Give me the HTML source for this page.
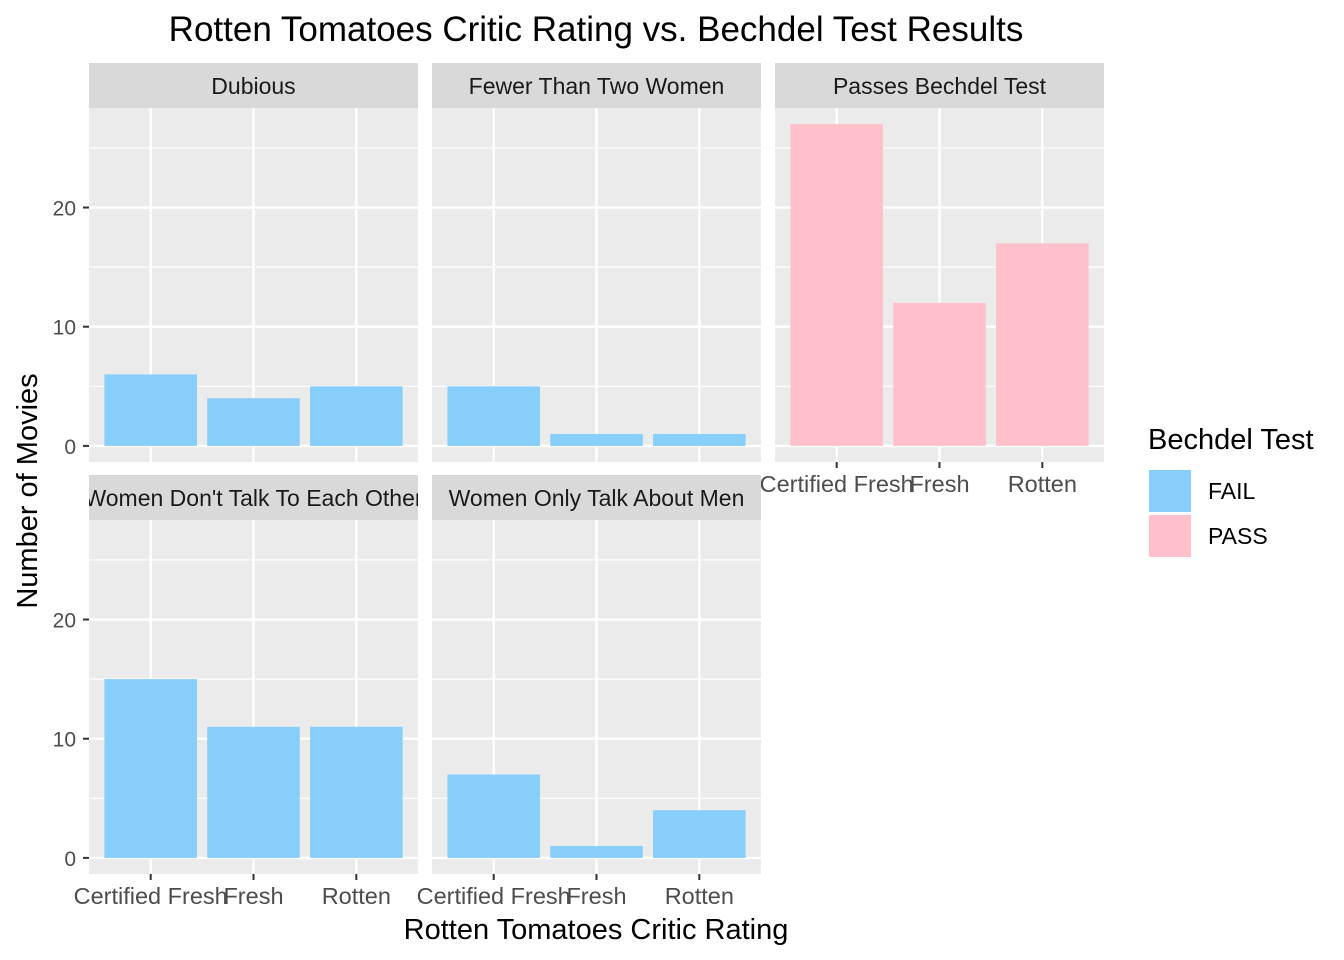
<!DOCTYPE html>
<html><head><meta charset="utf-8"><style>body{margin:0;background:#fff}svg{display:block;font-family:"Liberation Sans",sans-serif}</style></head>
<body>
<svg id="c" width="1344" height="960"></svg>
<script>
const categories=["Certified Fresh","Fresh","Rotten"];
const panels=["Dubious","Fewer Than Two Women","Passes Bechdel Test","Women Don't Talk To Each Other","Women Only Talk About Men"];
const dubious=[6,4,5];
const fewer=[5,1,1];
const passes=[27,12,17];
const dontTalk=[15,11,11];
const onlyMen=[7,1,4];
const yTicks=[0,10,20];
const series=[dubious,fewer,passes,dontTalk,onlyMen];
const ns="http://www.w3.org/2000/svg",svg=document.getElementById('c');
function el(t,a,p){const e=document.createElementNS(ns,t);for(const k in a)e.setAttribute(k,a[k]);(p||svg).appendChild(e);return e;}
const pos=[[89,108],[432,108],[775,108],[89,520],[432,520]];
const PW=329,PH=354,ymin=-1.35,ymax=28.35;
const t=el('text',{x:596,y:41,'text-anchor':'middle','font-size':35,fill:'#000'});t.textContent="Rotten Tomatoes Critic Rating vs. Bechdel Test Results";

panels.forEach((name,i)=>{
  const [px,py]=pos[i];
  const g=el('g',{});
  
  
  const ys=v=>py+PH-(v-ymin)/(ymax-ymin)*PH;
  const xs=k=>px+(k+1-0.4)/3.2*PW;
  const bw=0.9/3.2*PW;
  el('rect',{x:px,y:py-45,width:PW,height:45,fill:'#d9d9d9'},g);
  const cp=el('clipPath',{id:'cp'+i},g);el('rect',{x:px,y:py-45,width:PW,height:45},cp);
  const st=el('text',{x:px+PW/2,y:py-14,'text-anchor':'middle','font-size':23,fill:'#1a1a1a','clip-path':'url(#cp'+i+')'},g);st.textContent=name;
  
  el('rect',{x:px,y:py,width:PW,height:PH,fill:'#ebebeb'},g);
  [5,15,25].forEach(v=>el('line',{x1:px,x2:px+PW,y1:ys(v),y2:ys(v),stroke:'#fff','stroke-width':1.2},g));
  yTicks.forEach(v=>el('line',{x1:px,x2:px+PW,y1:ys(v),y2:ys(v),stroke:'#fff','stroke-width':2.4},g));
  categories.forEach((c,k)=>el('line',{x1:xs(k),x2:xs(k),y1:py,y2:py+PH,stroke:'#fff','stroke-width':2.4},g));
  const vals=series[i];
  vals.forEach((v,k)=>{
    const b=el('rect',{x:xs(k)-bw/2,y:ys(v),width:bw,height:ys(0)-ys(v),fill:i==2?'#ffc0cb':'#87cefa'},g);
    
    
  });
  if(px==89){yTicks.forEach(v=>{
    el('line',{x1:px-6,x2:px,y1:ys(v),y2:ys(v),stroke:'#333','stroke-width':2},g);
    const l=el('text',{x:px-13,y:ys(v)+8,'text-anchor':'end','font-size':21,fill:'#4d4d4d'},g);l.textContent=v;
    
  });}
  if(i>=2){categories.forEach((c,k)=>{
    el('line',{x1:xs(k),x2:xs(k),y1:py+PH,y2:py+PH+6,stroke:'#333','stroke-width':2},g);
    const l=el('text',{x:xs(k),y:py+PH+30,'text-anchor':'middle','font-size':23.5,fill:'#4d4d4d'},g);l.textContent=c;
    
  });}
});
const xt=el('text',{x:596,y:939,'text-anchor':'middle','font-size':29,fill:'#000'});xt.textContent="Rotten Tomatoes Critic Rating";

const yt=el('text',{x:0,y:0,'text-anchor':'middle','font-size':29,fill:'#000',transform:'translate(37,491) rotate(-90)'});yt.textContent="Number of Movies";

const lg=el('g',{});


const lt=el('text',{x:1148,y:449,'font-size':29,fill:'#000'},lg);lt.textContent="Bechdel Test";
[["FAIL","#87cefa",469],["PASS","#ffc0cb",514]].forEach(([n,c,y])=>{
  const r=el('rect',{x:1148,y:y,width:44,height:44,fill:c,stroke:'#fff','stroke-width':2},lg);
  
  const l=el('text',{x:1208,y:y+30,'font-size':23,fill:'#000'},lg);l.textContent=n;
});
</script>
</body></html>
